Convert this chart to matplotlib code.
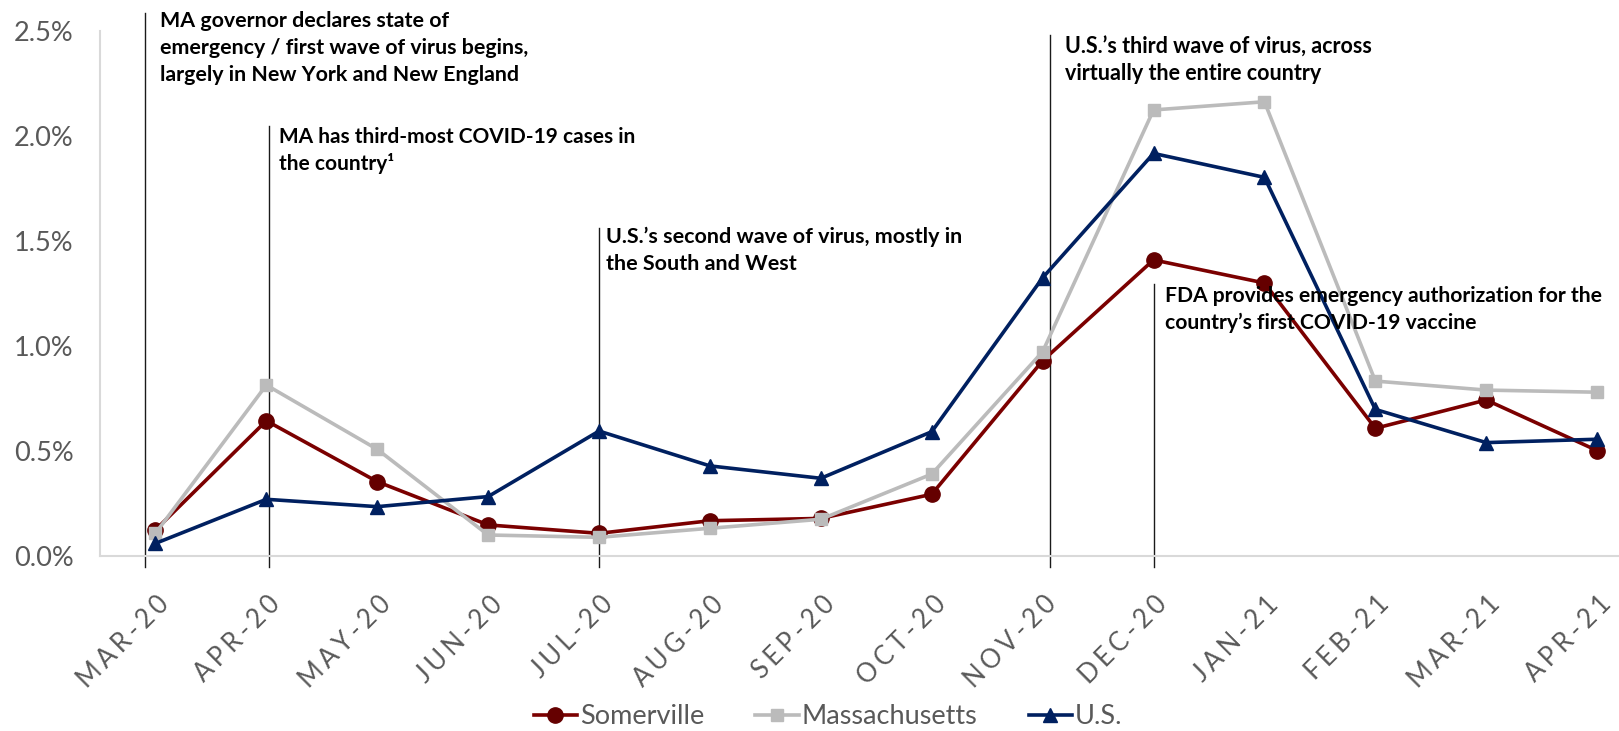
import matplotlib
matplotlib.use("Agg")
import matplotlib.pyplot as plt
import matplotlib.transforms as mtransforms
from matplotlib.ticker import FuncFormatter

months = ["MAR-20", "APR-20", "MAY-20", "JUN-20", "JUL-20", "AUG-20", "SEP-20",
          "OCT-20", "NOV-20", "DEC-20", "JAN-21", "FEB-21", "MAR-21", "APR-21"]
somerville = [0.124, 0.644, 0.354, 0.148, 0.108, 0.168, 0.179, 0.294, 0.93, 1.41, 1.30, 0.608, 0.743, 0.502]
massachusetts = [0.108, 0.814, 0.508, 0.100, 0.089, 0.132, 0.175, 0.39, 0.973, 2.124, 2.163, 0.833, 0.79, 0.78]
us = [0.060, 0.270, 0.235, 0.283, 0.595, 0.429, 0.370, 0.592, 1.325, 1.917, 1.803, 0.698, 0.540, 0.556]
series_names = ["Somerville", "Massachusetts", "U.S."]
yticks = [0.0, 0.5, 1.0, 1.5, 2.0, 2.5]

# annotation: (line x in category units, line top value, text x, first baseline value,
#              width in px of the widest line as seen in the reference, lines)
events = [
    (-0.09, 2.587, 0.045, 2.520, 370, ["MA governor declares state of",
                                        "emergency / first wave of virus begins,",
                                        "largely in New York and New England"]),
    (1.02, 2.048, 1.11, 1.965, 356, ["MA has third-most COVID-19 cases in",
                                      "the country\u00b9"]),
    (4.0, 1.562, 4.066, 1.492, 357, ["U.S.\u2019s second wave of virus, mostly in",
                                      "the South and West"]),
    (8.063, 2.481, 8.2, 2.394, 309, ["U.S.\u2019s third wave of virus, across",
                                      "virtually the entire country"]),
    (9.0, 1.295, 9.1, 1.211, 438, ["FDA provides emergency authorization for the",
                                    "country\u2019s first COVID-19 vaccine"]),
]
line_bottom = -0.052

W, H = 1619, 731
fig = plt.figure(figsize=(W / 100, H / 100), dpi=100)
ax_left, ax_bottom = 100.0 / W, 1 - 556.0 / H
ax_w, ax_h = 14 * 110.9 / W, 525.0 / H
ax = fig.add_axes([ax_left, ax_bottom, ax_w, ax_h])

FONT = ["Lato", "DejaVu Sans"]
GREY_TXT = "#595959"

x = list(range(len(months)))
ax.plot(x, somerville, color="#7B0000", lw=2.6, marker="o", ms=11,
        mfc="#650000", mec="#650000", label=series_names[0], zorder=3, clip_on=False)
ax.plot(x, massachusetts, color="#BBBBBB", lw=2.6, marker="s", ms=8.5,
        mfc="#BBBBBB", mec="#BBBBBB", label=series_names[1], zorder=4, clip_on=False)
ax.plot(x, us, color="#002060", lw=2.6, marker="^", ms=9.5,
        mfc="#002060", mec="#002060", label=series_names[2], zorder=5, clip_on=False)

ax.set_xlim(-0.5, len(months) - 0.5)
ax.set_ylim(0, 2.5)
ax.set_yticks(yticks)
ax.yaxis.set_major_formatter(FuncFormatter(lambda v, p: f"{v:.1f}%"))
for s in ["top", "right"]:
    ax.spines[s].set_visible(False)
for s in ["left", "bottom"]:
    ax.spines[s].set_color("#D9D9D9")
    ax.spines[s].set_linewidth(1.5)
ax.tick_params(axis="y", length=0, pad=19, labelsize=19.5, labelcolor=GREY_TXT)
ax.tick_params(axis="x", length=0, pad=32, labelsize=18.5, labelcolor=GREY_TXT)
for lab in ax.get_yticklabels():
    lab.set_family(FONT)

spaced = ["\u2006".join(m) for m in months]
ax.set_xticks(x)
ax.set_xticklabels(spaced, rotation=45, ha="right", va="center", rotation_mode="anchor")
offset = mtransforms.ScaledTranslation(10 / 100, 0, fig.dpi_scale_trans)
for lab in ax.get_xticklabels():
    lab.set_family(FONT)
    lab.set_transform(lab.get_transform() + offset)

renderer = fig.canvas.get_renderer()
BASE = 16.0
for lx, top, tx, ty, target_w, lines in events:
    ax.plot([lx, lx], [line_bottom, top], color="#1a1a1a", lw=1.0, zorder=2, clip_on=False)
    anns = []
    for i, t in enumerate(lines):
        a = ax.annotate(t, xy=(tx, ty), xytext=(0, -i * 27 * 0.72), textcoords="offset points",
                        ha="left", va="baseline", fontsize=BASE, fontweight="bold",
                        family=FONT, color="#000000", zorder=6, annotation_clip=False)
        anns.append(a)
    widest = max(a.get_window_extent(renderer).width for a in anns)
    size = BASE * target_w / widest
    for a in anns:
        a.set_fontsize(size)

leg = fig.legend(loc="center", bbox_to_anchor=(828 / W, 1 - 717 / H), ncol=3, frameon=False,
                 handlelength=1.6, handletextpad=0.1, columnspacing=1.9,
                 prop={"family": FONT, "size": 19.5})
for t in leg.get_texts():
    t.set_color(GREY_TXT)

fig.savefig("out.png", dpi=100)
